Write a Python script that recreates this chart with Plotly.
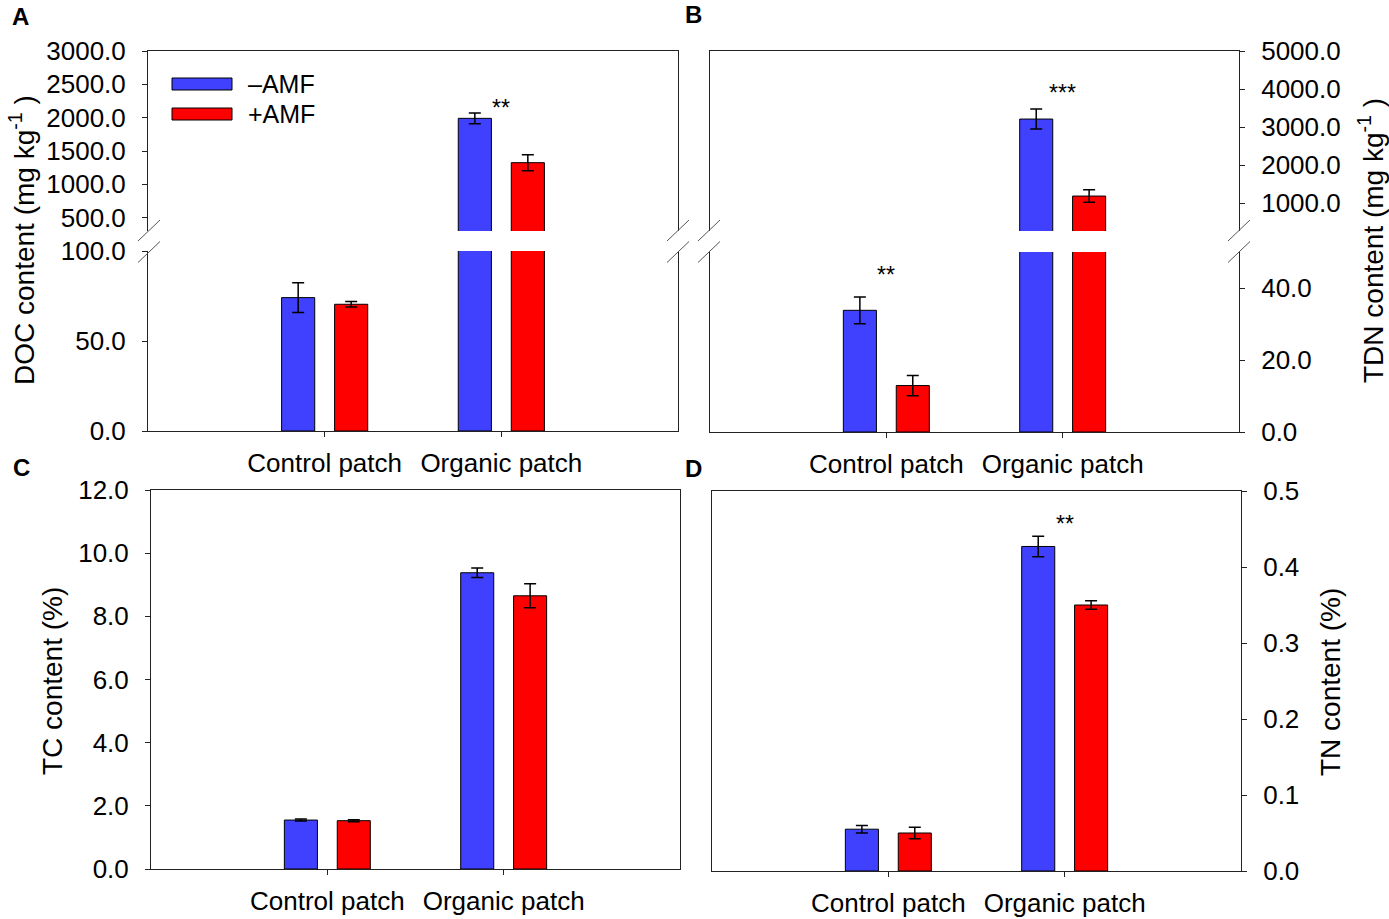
import plotly.graph_objects as go

# ---------------- data ----------------
categories = ["Control patch", "Organic patch"]
series_names = ["\u2013AMF", "+AMF"]
series_colors = ["#4040FF", "#FF0000"]

doc_minus = [74.1, 1990.0]
doc_minus_err = [8.3, 80.0]
doc_plus = [70.4, 1325.0]
doc_plus_err = [1.5, 120.0]

tdn_minus = [33.8, 3210.0]
tdn_minus_err = [3.7, 265.0]
tdn_plus = [12.9, 1184.0]
tdn_plus_err = [2.8, 165.0]

tc_minus = [1.55, 9.38]
tc_minus_err = [0.03, 0.15]
tc_plus = [1.53, 8.65]
tc_plus_err = [0.03, 0.38]

tn_minus = [0.055, 0.427]
tn_minus_err = [0.005, 0.0135]
tn_plus = [0.050, 0.350]
tn_plus_err = [0.0075, 0.0057]

doc_upper_ticks = [500, 1000, 1500, 2000, 2500, 3000]
doc_lower_ticks = [0, 50, 100]
tdn_upper_ticks = [1000, 2000, 3000, 4000, 5000]
tdn_lower_ticks = [0, 20, 40]
tc_ticks = [0, 2, 4, 6, 8, 10, 12]
tn_ticks = [0, 0.1, 0.2, 0.3, 0.4, 0.5]

# significance marks: (x axis, y axis, category, text, y value)
sig_marks = [
    ("x2", "y2", "Organic patch", "**", 2145),
    ("x4", "y4", "Organic patch", "***", 3886),
    ("x3", "y3", "Control patch", "**", 43.6),
    ("x6", "y6", "Organic patch", "**", 0.456),
]

# ---------------- layout helpers ----------------
W, H = 1389, 919
FONT = "Arial, Liberation Sans, sans-serif"


def px(x):
    return x / W


def py(y):
    return 1 - y / H


def xdom(a, b):
    return [px(a), px(b)]


def ydom(top, bottom):
    return [py(bottom), py(top)]


fig = go.Figure()


def add_pair(xa, ya, vals_m, err_m, vals_p, err_p):
    for name, col, v, e in ((series_names[0], series_colors[0], vals_m, err_m),
                            (series_names[1], series_colors[1], vals_p, err_p)):
        fig.add_trace(go.Bar(
            x=categories, y=v, name=name, xaxis=xa, yaxis=ya,
            marker=dict(color=col, line=dict(color="black", width=1)),
            error_y=dict(type="data", array=e, color="black", thickness=1.5, width=6),
            showlegend=False,
        ))


add_pair("x", "y", doc_minus, doc_minus_err, doc_plus, doc_plus_err)
add_pair("x2", "y2", doc_minus, doc_minus_err, doc_plus, doc_plus_err)
add_pair("x3", "y3", tdn_minus, tdn_minus_err, tdn_plus, tdn_plus_err)
add_pair("x4", "y4", tdn_minus, tdn_minus_err, tdn_plus, tdn_plus_err)
add_pair("x5", "y5", tc_minus, tc_minus_err, tc_plus, tc_plus_err)
add_pair("x6", "y6", tn_minus, tn_minus_err, tn_plus, tn_plus_err)

LINE = "#222222"
tickfont = dict(family=FONT, size=26, color="black")


def xbottom(dom, anchor, mirror):
    return dict(domain=dom, anchor=anchor, type="category", range=[-1, 2],
                showline=True, linecolor=LINE, linewidth=1, mirror=mirror,
                ticks="outside", ticklen=5, tickcolor=LINE, tickfont=tickfont,
                ticklabelstandoff=4, showgrid=False, zeroline=False, automargin=False)


def xtop(dom, anchor):
    return dict(domain=dom, anchor=anchor, type="category", range=[-1, 2], side="top",
                showline=True, linecolor=LINE, linewidth=1, ticks="",
                showticklabels=False, showgrid=False, zeroline=False, automargin=False)


def yaxis(dom, anchor, rng, tickvals, side):
    return dict(domain=dom, anchor=anchor, range=rng, side=side, tickvals=tickvals,
                tickformat=".1f", showline=True, linecolor=LINE, linewidth=1, mirror=True,
                ticks="outside", ticklen=5, tickcolor=LINE, tickfont=tickfont,
                ticklabelstandoff=11, showgrid=False, zeroline=False, automargin=False)


A_x = xdom(148, 678)
B_x = xdom(710, 1239)
C_x = xdom(151, 680)
D_x = xdom(712, 1241)

fig.update_layout(
    width=W, height=H,
    margin=dict(l=0, r=0, t=0, b=0, autoexpand=False),
    paper_bgcolor="white", plot_bgcolor="white",
    barmode="group", bargap=0.4, bargroupgap=0.375,
    showlegend=False,
    font=dict(family=FONT, color="black"),
    xaxis=xbottom(A_x, "y", False),
    yaxis=yaxis(ydom(251, 431), "x", [0, 100], doc_lower_ticks, "left"),
    xaxis2=xtop(A_x, "y2"),
    yaxis2=yaxis(ydom(51, 231), "x2", [300, 3000], doc_upper_ticks, "left"),
    xaxis3=xbottom(B_x, "y3", False),
    yaxis3=yaxis(ydom(252, 432), "x3", [0, 50], tdn_lower_ticks, "right"),
    xaxis4=xtop(B_x, "y4"),
    yaxis4=yaxis(ydom(51, 231), "x4", [265, 5000], tdn_upper_ticks, "right"),
    xaxis5=xbottom(C_x, "y5", True),
    yaxis5=yaxis(ydom(490, 869), "x5", [0, 12], tc_ticks, "left"),
    xaxis6=xbottom(D_x, "y6", True),
    yaxis6=yaxis(ydom(491, 871), "x6", [0, 0.5], tn_ticks, "right"),
)

annotations = []
# axis titles
titles = [
    ("DOC content (mg kg<sup>-1</sup> )", 22, 240),
    ("TDN content (mg kg<sup>-1</sup> )", 1371, 241),
    ("TC content (%)", 52, 681),
    ("TN content (%)", 1330, 682),
]
for t, x, y in titles:
    annotations.append(dict(text=t, x=px(x), y=py(y), xref="paper", yref="paper",
                            textangle=-90, showarrow=False, xanchor="center", yanchor="middle",
                            font=dict(family=FONT, size=28, color="black")))
# panel letters
for t, x, y in (("A", 20, 16), ("B", 693, 15), ("C", 21, 467), ("D", 693, 468)):
    annotations.append(dict(text="<b>%s</b>" % t, x=px(x), y=py(y), xref="paper", yref="paper",
                            showarrow=False, xanchor="center", yanchor="middle",
                            font=dict(family=FONT, size=24, color="black")))
# significance
for xa, ya, cat, t, yv in sig_marks:
    annotations.append(dict(text=t, x=cat, y=yv, xref=xa, yref=ya, showarrow=False,
                            xanchor="center", yanchor="middle",
                            font=dict(family=FONT, size=23, color="black")))
# legend text
leg_rows = [84, 114]
for name, y in zip(series_names, leg_rows):
    annotations.append(dict(text=name, x=px(246), y=py(y), xref="paper", yref="paper",
                            showarrow=False, xanchor="left", yanchor="middle",
                            font=dict(family=FONT, size=25, color="black")))
fig.update_layout(annotations=annotations)

shapes = []
# legend swatches
for col, y in zip(series_colors, leg_rows):
    shapes.append(dict(type="rect", xref="paper", yref="paper",
                       x0=px(172), x1=px(232), y0=py(y - 6), y1=py(y + 6),
                       fillcolor=col, line=dict(color="black", width=1)))
# axis break marks
for xc in (149, 678, 709, 1239):
    for yc in (230.5, 252):
        shapes.append(dict(type="line", xref="paper", yref="paper",
                           x0=px(xc - 11), y0=py(yc + 10.5), x1=px(xc + 11), y1=py(yc - 10.5),
                           line=dict(color="#555555", width=1)))
fig.update_layout(shapes=shapes)

fig.write_html("out.html", config={"displayModeBar": False},
               post_script="document.body.style.margin='0';document.body.style.overflow='hidden';")
